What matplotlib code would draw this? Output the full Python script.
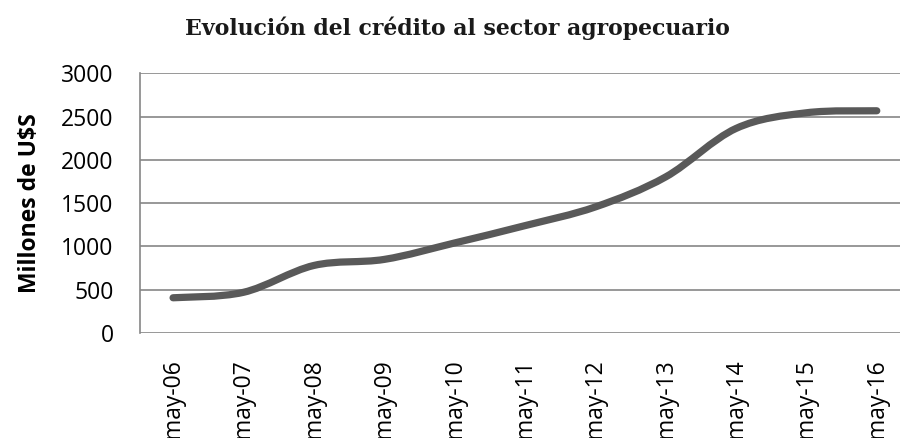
import numpy as np
import matplotlib
matplotlib.use("Agg")
import matplotlib.pyplot as plt
from matplotlib.path import Path
from matplotlib.patches import PathPatch

categories = ["may-06", "may-07", "may-08", "may-09", "may-10", "may-11",
              "may-12", "may-13", "may-14", "may-15", "may-16"]
values = [407, 470, 780, 850, 1040, 1240, 1456, 1803, 2363, 2544, 2567]
yticks = [0, 500, 1000, 1500, 2000, 2500, 3000]
title = "Evolución del crédito al sector agropecuario"
ylabel = "Millones de U$S"

W, H = 900, 438
fig = plt.figure(figsize=(W / 100, H / 100), dpi=100)
ax = fig.add_axes([140 / W, 1 - 333 / H, 1 - 140 / W, (333 - 73.3) / H])

x = np.arange(len(values), dtype=float)
y = np.array(values, dtype=float)

# Smoothed line (Excel-style Catmull-Rom -> cubic Bezier) through the data points
verts = [(x[0], y[0])]
codes = [Path.MOVETO]
n = len(x)
for i in range(n - 1):
    p0 = (x[max(i - 1, 0)], y[max(i - 1, 0)])
    p1 = (x[i], y[i])
    p2 = (x[i + 1], y[i + 1])
    p3 = (x[min(i + 2, n - 1)], y[min(i + 2, n - 1)])
    c1 = (p1[0] + (p2[0] - p0[0]) / 6, p1[1] + (p2[1] - p0[1]) / 6)
    c2 = (p2[0] - (p3[0] - p1[0]) / 6, p2[1] - (p3[1] - p1[1]) / 6)
    verts += [c1, c2, p2]
    codes += [Path.CURVE4] * 3
patch = PathPatch(Path(verts, codes), fill=False, edgecolor="#595959",
                  linewidth=5.2, capstyle="round", joinstyle="round", zorder=3)
ax.add_patch(patch)

ax.set_xlim(-0.47, 10.33)
ax.set_ylim(0, 3000)
ax.set_yticks(yticks)
ax.set_xticks(x)
ax.set_xticklabels(categories, rotation=90, va="top", ha="center")
ax.yaxis.grid(True, color="#868686", linewidth=1.2)
ax.set_axisbelow(True)
for s in ["top", "right", "bottom"]:
    ax.spines[s].set_visible(False)
ax.spines["left"].set_color("#868686")
ax.spines["left"].set_linewidth(1.2)
ax.tick_params(axis="both", length=0, labelsize=16.5, colors="black")
ax.tick_params(axis="y", pad=19)
ax.tick_params(axis="x", pad=19)
for lab in ax.get_xticklabels() + ax.get_yticklabels():
    lab.set_fontfamily("Open Sans")

fig.text(30 / W, 1 - 203 / H, ylabel, rotation=90, ha="center", va="center",
         fontsize=16.5, fontweight="bold", family="Open Sans")
fig.text(457 / W, 1 - 28 / H, title, ha="center", va="center",
         fontsize=15.8, fontweight="bold", family="DejaVu Serif", color="#1a1a1a")

fig.savefig("out.png", dpi=100)
